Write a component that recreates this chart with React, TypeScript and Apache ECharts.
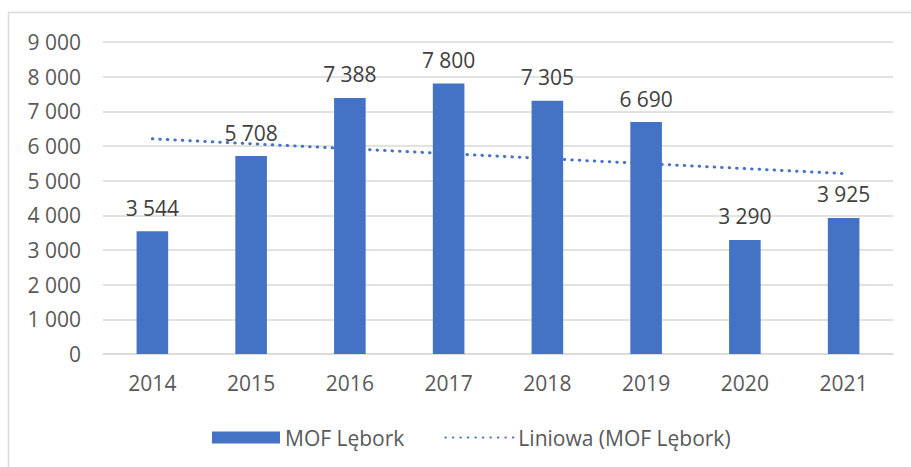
import React, { useEffect, useRef } from "react";
import * as echarts from "echarts";

const categories = ["2014", "2015", "2016", "2017", "2018", "2019", "2020", "2021"];
const mofValues = [3544, 5708, 7388, 7800, 7305, 6690, 3290, 3925];
// linear trend line endpoints (2014 and 2021)
const trendValues = [6207, null, null, null, null, null, null, 5206];
const seriesNames = ["MOF Lębork", "Liniowa (MOF Lębork)"];

const fmt = (v: number) => String(Math.round(v)).replace(/\B(?=(\d{3})+(?!\d))/g, " ");

export default function App() {
  const ref = useRef<HTMLDivElement>(null);
  useEffect(() => {
    if (!ref.current) return;
    const chart = echarts.init(ref.current, null, { renderer: "svg" });
    const font = "'Open Sans', sans-serif";
    chart.setOption({
      animation: false,
      backgroundColor: "#ffffff",
      textStyle: { fontFamily: font },
      graphic: [
        {
          type: "rect",
          shape: { x: 8.5, y: 12.5, width: 920, height: 470 },
          style: { fill: "none", stroke: "#d9d9d9", lineWidth: 1.5 },
          silent: true,
        },
      ],
      grid: { left: 103, right: 18, top: 42, bottom: 113, containLabel: false },
      legend: {
        bottom: 14,
        left: 207,
        itemWidth: 68,
        itemHeight: 12,
        itemGap: 40,
        textStyle: { fontSize: 21, color: "#595959", fontFamily: font },
        data: [
          { name: seriesNames[0], icon: "rect" },
          { name: seriesNames[1], itemStyle: { opacity: 0 } },
        ],
      },
      xAxis: {
        type: "category",
        data: categories,
        axisLine: { show: true, lineStyle: { color: "#d9d9d9", width: 1.5 } },
        axisTick: { show: false },
        axisLabel: { fontSize: 21, color: "#595959", margin: 18, fontFamily: font },
      },
      yAxis: {
        type: "value",
        min: 0,
        max: 9000,
        interval: 1000,
        axisLine: { show: false },
        axisTick: { show: false },
        splitLine: { lineStyle: { color: "#d9d9d9", width: 1.5 } },
        axisLabel: {
          fontSize: 21,
          color: "#595959",
          margin: 22,
          fontFamily: font,
          formatter: (v: number) => fmt(v),
        },
      },
      series: [
        {
          name: seriesNames[0],
          type: "bar",
          data: mofValues,
          barWidth: "32%",
          itemStyle: { color: "#4472C4" },
          label: {
            show: true,
            position: "top",
            distance: 13,
            fontSize: 21,
            color: "#404040",
            fontFamily: font,
            formatter: (p: any) => fmt(p.value),
          },
        },
        {
          name: seriesNames[1],
          type: "line",
          data: trendValues,
          connectNulls: true,
          symbol: "none",
          lineStyle: { color: "#4472C4", width: 3, type: [0.5, 7], cap: "round" },
          itemStyle: { color: "#4472C4" },
          z: 5,
        },
      ],
    });
    return () => chart.dispose();
  }, []);
  return (
    <div
      ref={ref}
      style={{ position: "absolute", left: 0, top: 0, width: 911, height: 467 }}
    />
  );
}
